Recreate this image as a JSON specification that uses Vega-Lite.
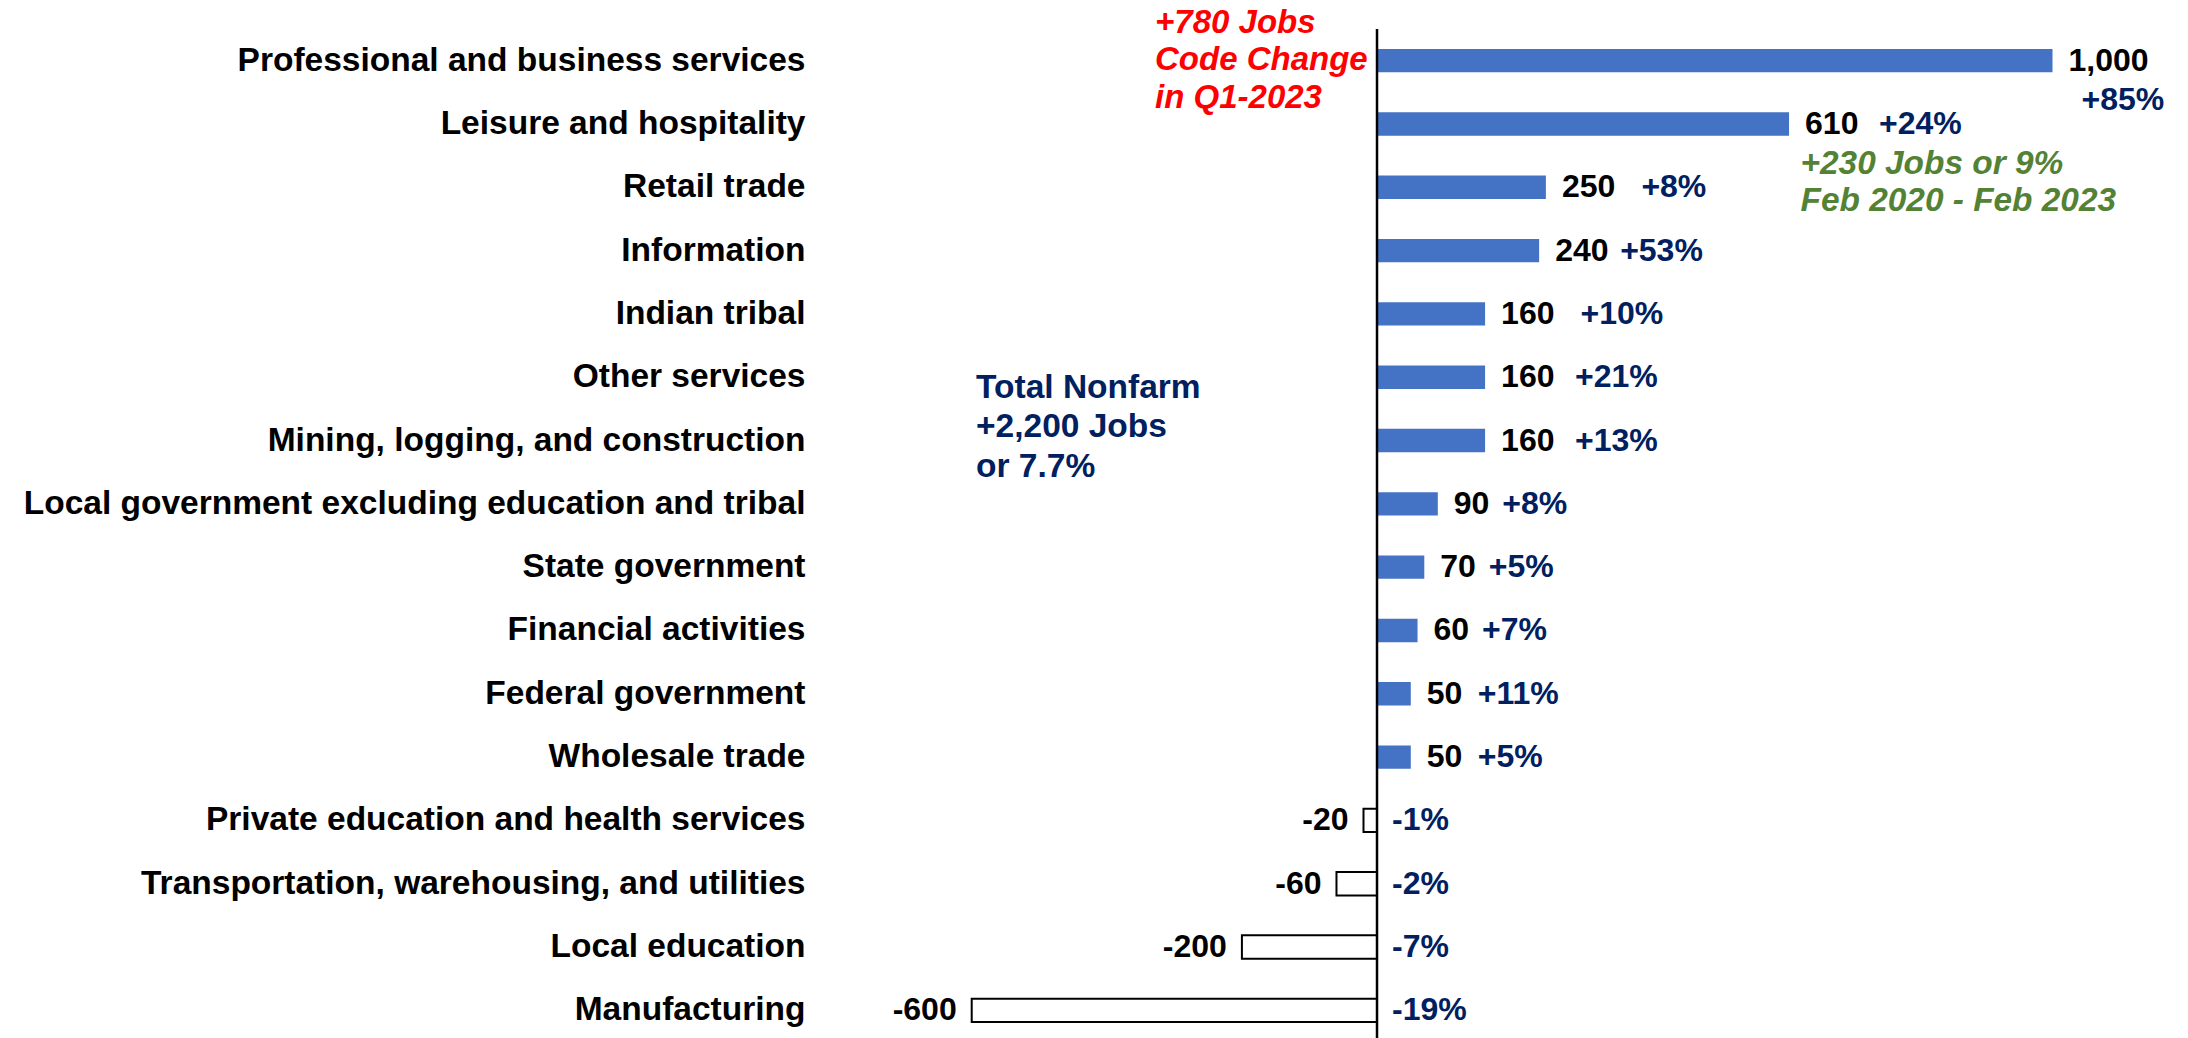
{
  "$schema": "https://vega.github.io/schema/vega-lite/v6.json",
  "autosize": {"type": "none"},
  "padding": {"left": 820, "top": 29, "right": 0, "bottom": 0},
  "width": 1368,
  "height": 1013,
  "background": "white",
  "config": {"view": {"stroke": null}, "font": "Liberation Sans"},
  "data": {"values": [
    {"cat": "Professional and business services", "value": 1000, "vlab": "1,000", "plab": "+85%"},
    {"cat": "Leisure and hospitality", "value": 610, "vlab": "610", "plab": "+24%"},
    {"cat": "Retail trade", "value": 250, "vlab": "250", "plab": "+8%"},
    {"cat": "Information", "value": 240, "vlab": "240", "plab": "+53%"},
    {"cat": "Indian tribal", "value": 160, "vlab": "160", "plab": "+10%"},
    {"cat": "Other services", "value": 160, "vlab": "160", "plab": "+21%"},
    {"cat": "Mining, logging, and construction", "value": 160, "vlab": "160", "plab": "+13%"},
    {"cat": "Local government excluding education and tribal", "value": 90, "vlab": "90", "plab": "+8%"},
    {"cat": "State government", "value": 70, "vlab": "70", "plab": "+5%"},
    {"cat": "Financial activities", "value": 60, "vlab": "60", "plab": "+7%"},
    {"cat": "Federal government", "value": 50, "vlab": "50", "plab": "+11%"},
    {"cat": "Wholesale trade", "value": 50, "vlab": "50", "plab": "+5%"},
    {"cat": "Private education and health services", "value": -20, "vlab": "-20", "plab": "-1%"},
    {"cat": "Transportation, warehousing, and utilities", "value": -60, "vlab": "-60", "plab": "-2%"},
    {"cat": "Local education", "value": -200, "vlab": "-200", "plab": "-7%"},
    {"cat": "Manufacturing", "value": -600, "vlab": "-600", "plab": "-19%"}
  ]},
  "encoding": {
    "y": {"field": "cat", "type": "nominal", "sort": null,
          "scale": {"paddingInner": 0.63, "paddingOuter": 0.315},
          "axis": {"title": null, "domain": false, "ticks": false, "grid": false,
                   "labelFont": "Liberation Sans", "labelFontSize": 33.5, "labelFontWeight": "bold",
                   "labelColor": "#000000", "labelPadding": 15, "labelLimit": 0}}
  },
  "layer": [
    {
      "transform": [{"filter": "datum.value > 0"}],
      "mark": {"type": "bar", "fill": "#4472C4"},
      "encoding": {
        "x": {"field": "value", "type": "quantitative",
              "scale": {"domain": [-824.6, 1200.6], "nice": false, "zero": false}, "axis": null}
      }
    },
    {
      "transform": [{"filter": "datum.value < 0"}],
      "mark": {"type": "bar", "fill": "#FFFFFF", "stroke": "#000000", "strokeWidth": 2},
      "encoding": {
        "x": {"field": "value", "type": "quantitative"}
      }
    },
    {
      "transform": [{"filter": "datum.value >= 1000"}],
      "mark": {"type": "rule", "stroke": "#000000", "strokeWidth": 2.5},
      "encoding": {"x": {"datum": 0, "type": "quantitative"}, "y": null}
    },
    {
      "transform": [{"filter": "datum.value > 0"}],
      "mark": {"type": "text", "align": "left", "baseline": "middle", "dx": 16, "font": "Liberation Sans", "fontSize": 32, "fontWeight": "bold", "color": "#000000"},
      "encoding": {
        "x": {"field": "value", "type": "quantitative"},
        "text": {"field": "vlab"}
      }
    },
    {
      "transform": [{"filter": "indexof(['Leisure and hospitality', 'Other services', 'Mining, logging, and construction'], datum.cat) >= 0"}],
      "mark": {"type": "text", "align": "left", "baseline": "middle", "dx": 90, "font": "Liberation Sans", "fontSize": 32, "fontWeight": "bold", "color": "#002060"},
      "encoding": {
        "x": {"field": "value", "type": "quantitative"},
        "text": {"field": "plab"}
      }
    },
    {
      "transform": [{"filter": "indexof(['Retail trade', 'Indian tribal'], datum.cat) >= 0"}],
      "mark": {"type": "text", "align": "left", "baseline": "middle", "dx": 95.5, "font": "Liberation Sans", "fontSize": 32, "fontWeight": "bold", "color": "#002060"},
      "encoding": {
        "x": {"field": "value", "type": "quantitative"},
        "text": {"field": "plab"}
      }
    },
    {
      "transform": [{"filter": "datum.cat == 'Information'"}],
      "mark": {"type": "text", "align": "left", "baseline": "middle", "dx": 81, "font": "Liberation Sans", "fontSize": 32, "fontWeight": "bold", "color": "#002060"},
      "encoding": {
        "x": {"field": "value", "type": "quantitative"},
        "text": {"field": "plab"}
      }
    },
    {
      "transform": [{"filter": "datum.value > 50 && datum.value < 100"}],
      "mark": {"type": "text", "align": "left", "baseline": "middle", "dx": 64.5, "font": "Liberation Sans", "fontSize": 32, "fontWeight": "bold", "color": "#002060"},
      "encoding": {
        "x": {"field": "value", "type": "quantitative"},
        "text": {"field": "plab"}
      }
    },
    {
      "transform": [{"filter": "datum.value == 50"}],
      "mark": {"type": "text", "align": "left", "baseline": "middle", "dx": 67, "font": "Liberation Sans", "fontSize": 32, "fontWeight": "bold", "color": "#002060"},
      "encoding": {
        "x": {"field": "value", "type": "quantitative"},
        "text": {"field": "plab"}
      }
    },
    {
      "transform": [{"filter": "datum.value < 0"}],
      "mark": {"type": "text", "align": "right", "baseline": "middle", "dx": -15, "font": "Liberation Sans", "fontSize": 32, "fontWeight": "bold", "color": "#000000"},
      "encoding": {
        "x": {"field": "value", "type": "quantitative"},
        "text": {"field": "vlab"}
      }
    },
    {
      "transform": [{"filter": "datum.value < 0"}],
      "mark": {"type": "text", "align": "left", "baseline": "middle", "dx": 15, "font": "Liberation Sans", "fontSize": 32, "fontWeight": "bold", "color": "#002060"},
      "encoding": {
        "x": {"datum": 0, "type": "quantitative"},
        "text": {"field": "plab"}
      }
    },
    {
      "transform": [{"filter": "datum.value >= 1000"}],
      "mark": {"type": "text", "align": "left", "baseline": "middle", "dx": 29, "dy": 39, "font": "Liberation Sans", "fontSize": 32, "fontWeight": "bold", "color": "#002060"},
      "encoding": {
        "x": {"field": "value", "type": "quantitative"},
        "text": {"field": "plab"}
      }
    },
    {
      "transform": [{"filter": "datum.cat == 'Professional and business services'"}],
      "mark": {"type": "text", "align": "left", "baseline": "alphabetic", "dy": -28, "lineHeight": 37.5,
               "font": "Liberation Sans", "fontSize": 33, "fontWeight": "bold", "fontStyle": "italic", "color": "#FF0000"},
      "encoding": {
        "x": {"datum": -328.6, "type": "quantitative"},
        "text": {"value": ["+780 Jobs", "Code Change", "in Q1-2023"]}
      }
    },
    {
      "transform": [{"filter": "datum.cat == 'Retail trade'"}],
      "mark": {"type": "text", "align": "left", "baseline": "alphabetic", "dy": -13.7, "lineHeight": 37.7,
               "font": "Liberation Sans", "fontSize": 33.4, "fontWeight": "bold", "fontStyle": "italic", "color": "#548235"},
      "encoding": {
        "x": {"datum": 627, "type": "quantitative"},
        "text": {"value": ["+230 Jobs or 9%", "Feb 2020 - Feb 2023"]}
      }
    },
    {
      "transform": [{"filter": "datum.cat == 'Other services'"}],
      "mark": {"type": "text", "align": "left", "baseline": "alphabetic", "dy": 20.3, "lineHeight": 39.5,
               "font": "Liberation Sans", "fontSize": 33.5, "fontWeight": "bold", "color": "#002060"},
      "encoding": {
        "x": {"datum": -593.6, "type": "quantitative"},
        "text": {"value": ["Total Nonfarm", "+2,200 Jobs", "or 7.7%"]}
      }
    }
  ]
}
